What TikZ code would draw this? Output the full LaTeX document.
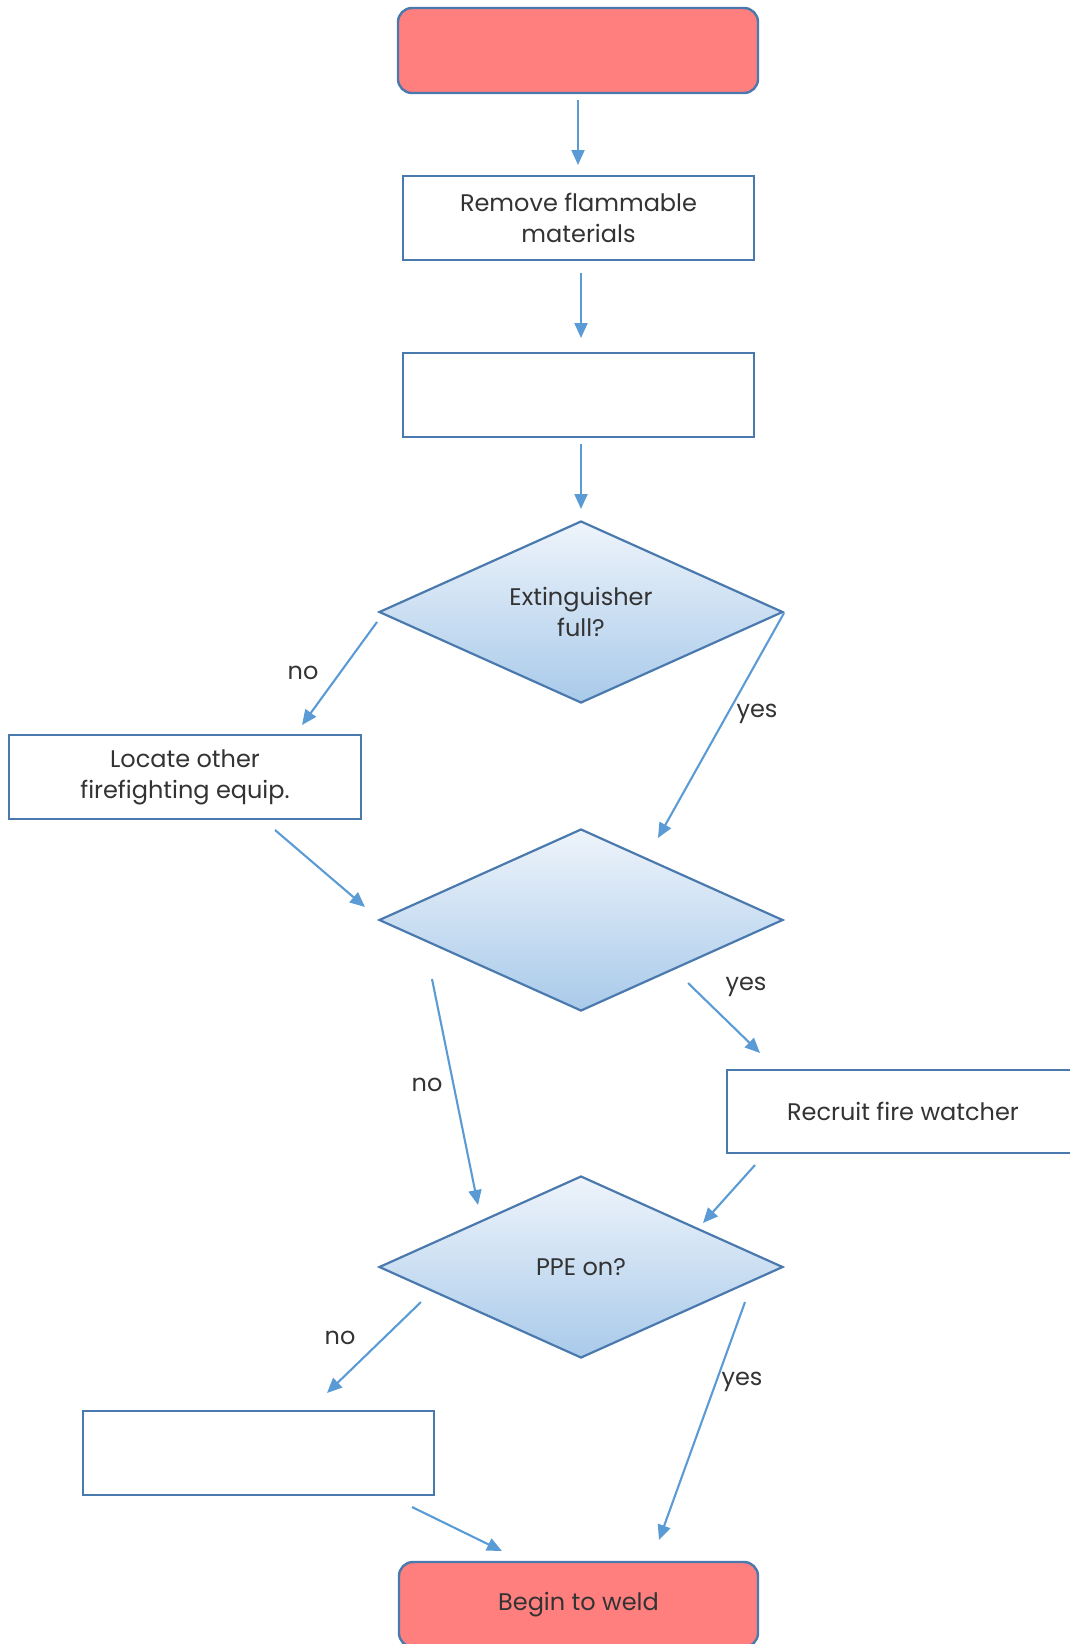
\documentclass[tikz,border=0pt]{standalone}
\usepackage{fontspec}
\setmainfont{Poppins}
\usetikzlibrary{shapes.geometric,arrows.meta}

\definecolor{boxline}{HTML}{4A79AE}
\definecolor{arrowblue}{HTML}{5B9BD5}
\definecolor{termfill}{HTML}{FF7F7F}
\definecolor{diamtop}{HTML}{EEF4FB}
\definecolor{diambot}{HTML}{A9CAEA}
\definecolor{txt}{HTML}{333333}

\tikzset{
  labelfont/.style={text=txt, font=\fontsize{24}{31}\selectfont},
  stepbox/.style={draw=boxline, line width=2.4pt, fill=white, minimum width=351pt,
    minimum height=84pt, inner sep=0pt, align=center, labelfont},
  terminal/.style={stepbox, fill=termfill, rounded corners=14pt,
    minimum width=360pt, minimum height=85pt},
  % the question is set as a centred label so it does not widen the diamond
  decision/.style={diamond, draw=boxline, line width=2.2pt, top color=diamtop,
    bottom color=diambot, minimum width=404pt, minimum height=182pt,
    inner sep=0pt, label={[labelfont, align=center]center:#1}},
  decision/.default={},
  flow/.style={draw=arrowblue, line width=2.1pt, -{Triangle[length=15pt,width=13pt]}},
  edgetag/.style={labelfont}
}

\begin{document}
\begin{tikzpicture}[x=1pt,y=-1pt]
  \useasboundingbox (0,0) rectangle (1070,1644);

  % boxes and decisions
  \node[terminal] (start)   at (578,50.5) {};
  \node[stepbox]  (remove)  at (578.5,218) {Remove flammable\\materials};
  \node[stepbox]  (check)   at (578.5,395) {};
  \node[decision={Extinguisher\\full?}] (full) at (581,612) {};
  \node[stepbox, minimum width=352pt] (locate) at (185,777) {Locate other\\firefighting equip.};
  \node[decision] (second)  at (581,920) {};
  \node[stepbox, minimum width=352pt, minimum height=83pt] (watcher) at (903,1111.5) {Recruit fire watcher};
  \node[decision={PPE on?}] (ppe) at (581,1267) {};
  \node[stepbox]  (gear)    at (258.5,1453) {};
  \node[terminal, minimum width=359pt] (weld) at (578.5,1604.5) {Begin to weld};

  % connector end points
  \coordinate (s1) at (578,100);   \coordinate (e1) at (578,165);
  \coordinate (s2) at (581,273);   \coordinate (e2) at (581,338);
  \coordinate (s3) at (581,444);   \coordinate (e3) at (581,509);
  \coordinate (s4) at (377,622);   \coordinate (e4) at (302,725);
  \coordinate (s5) at (784,613);   \coordinate (e5) at (658,838);
  \coordinate (s6) at (275,830);   \coordinate (e6) at (365,907);
  \coordinate (s7) at (432,979);   \coordinate (e7) at (478,1205);
  \coordinate (s8) at (688,983);   \coordinate (e8) at (760,1053);
  \coordinate (s9) at (755,1165);  \coordinate (e9) at (703,1223);
  \coordinate (s10) at (421,1302); \coordinate (e10) at (327,1393);
  \coordinate (s11) at (745,1302); \coordinate (e11) at (659,1540);
  \coordinate (s12) at (412,1507); \coordinate (e12) at (502,1551);

  % connectors
  \draw[flow] (s1) -- (e1);
  \draw[flow] (s2) -- (e2);
  \draw[flow] (s3) -- (e3);
  \draw[flow] (s4) -- (e4);
  \draw[flow] (s5) -- (e5);
  \draw[flow] (s6) -- (e6);
  \draw[flow] (s7) -- (e7);
  \draw[flow] (s8) -- (e8);
  \draw[flow] (s9) -- (e9);
  \draw[flow] (s10) -- (e10);
  \draw[flow] (s11) -- (e11);
  \draw[flow] (s12) -- (e12);

  % branch labels
  \node[edgetag] (n1) at (303,673) {no};
  \node[edgetag] (y1) at (757,714) {yes};
  \node[edgetag] (y2) at (746,987) {yes};
  \node[edgetag] (n2) at (427,1085) {no};
  \node[edgetag] (n3) at (340,1338) {no};
  \node[edgetag] (y3) at (742,1382) {yes};
\end{tikzpicture}
\end{document}
